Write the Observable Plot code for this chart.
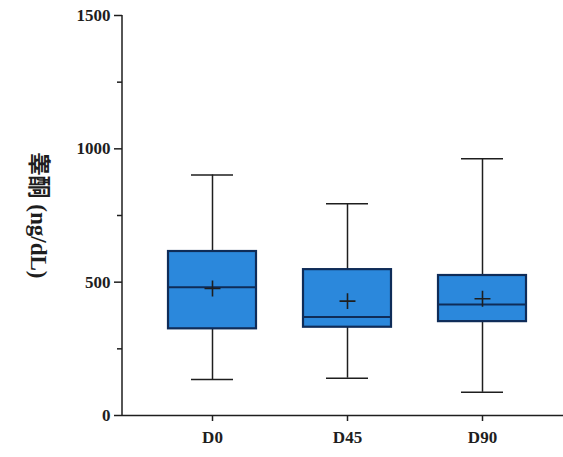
<!DOCTYPE html>
<html><head><meta charset="utf-8">
<script src="https://cdn.jsdelivr.net/npm/d3@7"></script>
<script src="https://cdn.jsdelivr.net/npm/@observablehq/plot@0.6"></script>
<style>body{margin:0;background:#fff}</style>
</head><body><div id="chart"></div>
<script>
const categories = ["D0", "D45", "D90"];
const whiskerLow = [135, 140, 87];
const q1 = [325, 331, 352];
const median = [481, 369, 416];
const q3 = [615, 547, 525];
const whiskerHigh = [902, 794, 963];
const mean = [476, 429, 438];
const yTicks = [0, 500, 1000, 1500];
const yMinorTicks = [250, 750, 1250];
const yLabel = "睾酮 (ng/dL)";

const data = categories.map((c, i) => ({
  cat: c, lo: whiskerLow[i], q1: q1[i], med: median[i], q3: q3[i], hi: whiskerHigh[i], mean: mean[i]
}));

const ink = "#1e1e1e";
const boxStroke = "#0f2c58";
const boxFill = "#2b88dc";
const marginLeft = 122;

const chart = Plot.plot({
  width: 563,
  height: 457,
  marginTop: 15,
  marginBottom: 42,
  marginLeft,
  marginRight: 0,
  style: {fontFamily: "'Liberation Serif', 'Noto Sans CJK SC', serif", fontWeight: "bold", fontSize: "17px", color: ink, background: "#fff"},
  x: {type: "band", domain: categories, paddingInner: 0.345, paddingOuter: 0.297, align: 0.553, axis: null},
  y: {domain: [0, 1500], axis: null},
  marks: [
    Plot.ruleY([0], {stroke: ink, strokeWidth: 1.5}),
    Plot.axisY({ticks: yTicks, tickSize: 8, tickPadding: 4, tickFormat: "d", stroke: ink, strokeWidth: 1.5, label: null, fontSize: 17}),
    Plot.axisY({ticks: yMinorTicks, tickSize: 5, tickFormat: () => "", stroke: ink, strokeWidth: 1.5, label: null}),
    Plot.axisX({tickSize: 6, tickPadding: 9, stroke: ink, strokeWidth: 1.5, label: null, fontSize: 17}),
    Plot.text([yLabel], {frameAnchor: "left", textAnchor: "middle", rotate: 90, dx: -84, fontSize: 23, fontWeight: "bold", fill: ink}),
    Plot.ruleX(data, {x: "cat", y1: "lo", y2: "hi", stroke: ink, strokeWidth: 1.5}),
    Plot.tickY(data, {x: "cat", y: "lo", insetLeft: 23, insetRight: 23, stroke: ink, strokeWidth: 1.5}),
    Plot.tickY(data, {x: "cat", y: "hi", insetLeft: 23, insetRight: 23, stroke: ink, strokeWidth: 1.5}),
    Plot.barY(data, {x: "cat", y1: "q1", y2: "q3", fill: boxFill, stroke: boxStroke, strokeWidth: 2.2}),
    Plot.tickY(data, {x: "cat", y: "med", stroke: boxStroke, strokeWidth: 2}),
    Plot.dot(data, {x: "cat", y: "mean", symbol: "plus", r: 5.2, stroke: ink, strokeWidth: 1.6})
  ]
});

// y-axis spine drawn from the y scale's extent
const ys = chart.scale("y");
d3.select(chart).append("line")
  .attr("x1", marginLeft).attr("x2", marginLeft)
  .attr("y1", ys.apply(yTicks[0])).attr("y2", ys.apply(yTicks[yTicks.length - 1]))
  .attr("stroke", ink).attr("stroke-width", 1.5);

document.getElementById("chart").appendChild(chart);
</script>
</body></html>
